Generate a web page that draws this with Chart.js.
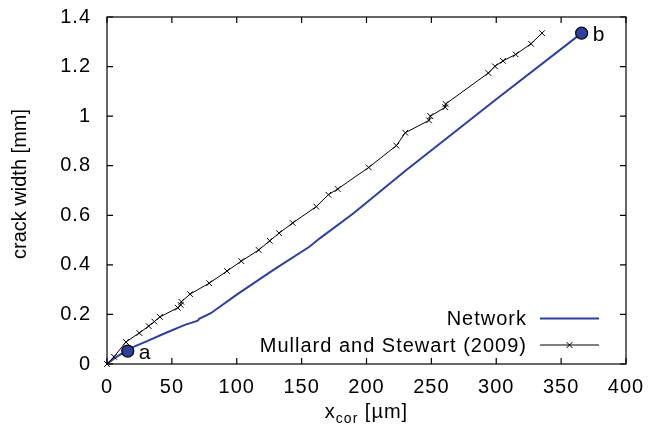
<!DOCTYPE html>
<html><head><meta charset="utf-8">
<script src="https://cdn.jsdelivr.net/npm/chart.js@4.4.0/dist/chart.umd.min.js"></script>
<style>html,body{margin:0;padding:0;background:#fff}</style>
</head><body>
<canvas id="c" width="649" height="435"></canvas>
<script>
const seriesNames = ['Network', 'Mullard and Stewart (2009)'];
const networkX = [0, 5, 10, 16, 20, 30, 46, 60, 66, 70, 71, 80, 100, 128, 156, 164, 190, 230, 300, 365.8];
const networkY = [0, 0.02, 0.038, 0.055, 0.068, 0.09, 0.127, 0.158, 0.168, 0.175, 0.182, 0.205, 0.28, 0.379, 0.473, 0.507, 0.608, 0.78, 1.068, 1.335];
const mullardX = [0, 5.4, 14.6, 24.9, 32.1, 36.5, 40.8, 54.5, 56.8, 57.3, 64, 78.8, 92.5, 103.5, 116.9, 125.4, 132.6, 143.1, 161.3, 170.6, 177.8, 201.7, 223, 229.9, 248.2, 249.2, 260.7, 261, 293.9, 299, 305.2, 315, 326.8, 335.3];
const mullardY = [0, 0.029, 0.089, 0.125, 0.153, 0.171, 0.19, 0.227, 0.238, 0.251, 0.282, 0.326, 0.375, 0.415, 0.46, 0.497, 0.528, 0.569, 0.635, 0.683, 0.706, 0.793, 0.881, 0.933, 0.983, 1.0, 1.036, 1.049, 1.174, 1.201, 1.223, 1.249, 1.292, 1.335];
const markerX = [16, 365.8];
const markerY = [0.052, 1.335];
const markerLabels = ['a', 'b'];
const xTicks = [0, 50, 100, 150, 200, 250, 300, 350, 400];
const yTicks = [0, 0.2, 0.4, 0.6, 0.8, 1, 1.2, 1.4];
const xTitleMain = 'x', xTitleSub = 'cor', xTitleRest = ' [\u00b5m]';
const yTitle = 'crack width [mm]';

const FONT = '"Liberation Sans", Arial, Helvetica, sans-serif';
const FS = 20;
const BLUE = '#2d3f9f';
const SPACING = '1px';

const toPts = (xs, ys) => xs.map((x, i) => ({x: x, y: ys[i]}));

const spacingPlugin = {
  id: 'spacing',
  beforeUpdate(chart) { chart.ctx.letterSpacing = SPACING; },
  beforeLayout(chart) { chart.ctx.letterSpacing = SPACING; },
  beforeDraw(chart) { chart.ctx.letterSpacing = SPACING; }
};

const framePlugin = {
  id: 'frame',
  afterDraw(chart) {
    const ctx = chart.ctx, a = chart.chartArea;
    const xs = chart.scales.x, ys = chart.scales.y;
    ctx.save();
    ctx.letterSpacing = SPACING;
    ctx.strokeStyle = '#000';
    ctx.lineWidth = 1.2;
    ctx.strokeRect(a.left, a.top, a.right - a.left, a.bottom - a.top);
    ctx.beginPath();
    const L = 6;
    xTicks.forEach(v => {
      const px = xs.getPixelForValue(v);
      ctx.moveTo(px, a.bottom); ctx.lineTo(px, a.bottom - L);
      ctx.moveTo(px, a.top); ctx.lineTo(px, a.top + L);
    });
    yTicks.forEach(v => {
      const py = ys.getPixelForValue(v);
      ctx.moveTo(a.left, py); ctx.lineTo(a.left + L, py);
      ctx.moveTo(a.right, py); ctx.lineTo(a.right - L, py);
    });
    ctx.stroke();

    // axis titles
    ctx.fillStyle = '#000';
    ctx.textBaseline = 'alphabetic';
    const cx = (a.left + a.right) / 2;
    ctx.font = FS + 'px ' + FONT;
    const w1 = ctx.measureText(xTitleMain).width;
    const w3 = ctx.measureText(xTitleRest).width;
    ctx.font = '14px ' + FONT;
    const w2 = ctx.measureText(xTitleSub).width;
    let sx = cx - (w1 + w2 + w3) / 2;
    const base = 418;
    ctx.textAlign = 'left';
    ctx.font = FS + 'px ' + FONT;
    ctx.fillText(xTitleMain, sx, base);
    ctx.font = '14px ' + FONT;
    ctx.fillText(xTitleSub, sx + w1, base + 5);
    ctx.font = FS + 'px ' + FONT;
    ctx.fillText(xTitleRest, sx + w1 + w2, base);

    ctx.save();
    ctx.letterSpacing = '0px';
    ctx.translate(26, 184);
    ctx.rotate(-Math.PI / 2);
    ctx.textAlign = 'center';
    ctx.fillText(yTitle, 0, 0);
    ctx.restore();

    // legend
    const rows = [
      {name: seriesNames[0], y: 318.5, color: BLUE, lw: 2, marker: false},
      {name: seriesNames[1], y: 345, color: '#000', lw: 1, marker: true}
    ];
    rows.forEach(r => {
      ctx.font = FS + 'px ' + FONT;
      ctx.textAlign = 'right';
      ctx.textBaseline = 'middle';
      ctx.fillStyle = '#000';
      ctx.fillText(r.name, 527, r.y + 1);
      ctx.strokeStyle = r.color;
      ctx.lineWidth = r.lw;
      ctx.beginPath();
      ctx.moveTo(540, r.y); ctx.lineTo(599, r.y);
      ctx.stroke();
      if (r.marker) {
        const mx = 569.5, s = 3;
        ctx.lineWidth = 1;
        ctx.beginPath();
        ctx.moveTo(mx - s, r.y - s); ctx.lineTo(mx + s, r.y + s);
        ctx.moveTo(mx - s, r.y + s); ctx.lineTo(mx + s, r.y - s);
        ctx.stroke();
      }
    });

    // point labels
    const meta = chart.getDatasetMeta(0);
    ctx.font = '21px ' + FONT;
    ctx.textAlign = 'left';
    ctx.textBaseline = 'alphabetic';
    ctx.fillStyle = '#000';
    meta.data.forEach((el, i) => {
      ctx.fillText(markerLabels[i], el.x + 11, el.y + 8);
    });
    ctx.restore();
  }
};

new Chart(document.getElementById('c'), {
  type: 'scatter',
  data: {
    datasets: [
      {
        label: 'points',
        data: toPts(markerX, markerY),
        showLine: false,
        pointRadius: 6,
        pointBackgroundColor: BLUE,
        pointBorderColor: '#000',
        pointBorderWidth: 1.2,
        order: -1
      },
      {
        label: seriesNames[1],
        data: toPts(mullardX, mullardY),
        showLine: true,
        borderColor: '#000',
        borderWidth: 1,
        pointStyle: 'crossRot',
        pointRadius: 4,
        pointBorderColor: '#000',
        pointBorderWidth: 1,
        tension: 0,
        clip: false,
        order: 1
      },
      {
        label: seriesNames[0],
        data: toPts(networkX, networkY),
        showLine: true,
        borderColor: BLUE,
        borderWidth: 2,
        pointRadius: 0,
        tension: 0,
        order: 2
      }
    ]
  },
  options: {
    responsive: false,
    animation: false,
    devicePixelRatio: 1,
    layout: {padding: {left: 0, right: 23, top: 17, bottom: 0}},
    plugins: {legend: {display: false}, tooltip: {enabled: false}},
    scales: {
      x: {
        type: 'linear', min: 0, max: 400,
        afterBuildTicks: s => { s.ticks = xTicks.map(v => ({value: v})); },
        afterFit: s => { s.height = 71; s.paddingLeft = 0; s.paddingRight = 0; },
        grid: {display: false, drawTicks: false},
        border: {display: false},
        ticks: {color: '#000', font: {family: FONT, size: FS}, padding: 11, maxRotation: 0,
                callback: v => String(v)}
      },
      y: {
        type: 'linear', min: 0, max: 1.4,
        afterBuildTicks: s => { s.ticks = yTicks.map(v => ({value: v})); },
        afterFit: s => { s.width = 107; s.paddingTop = 0; s.paddingBottom = 0; },
        grid: {display: false, drawTicks: false},
        border: {display: false},
        ticks: {color: '#000', font: {family: FONT, size: FS}, padding: 16,
                callback: v => String(v)}
      }
    }
  },
  plugins: [spacingPlugin, framePlugin]
});
</script>
</body></html>
